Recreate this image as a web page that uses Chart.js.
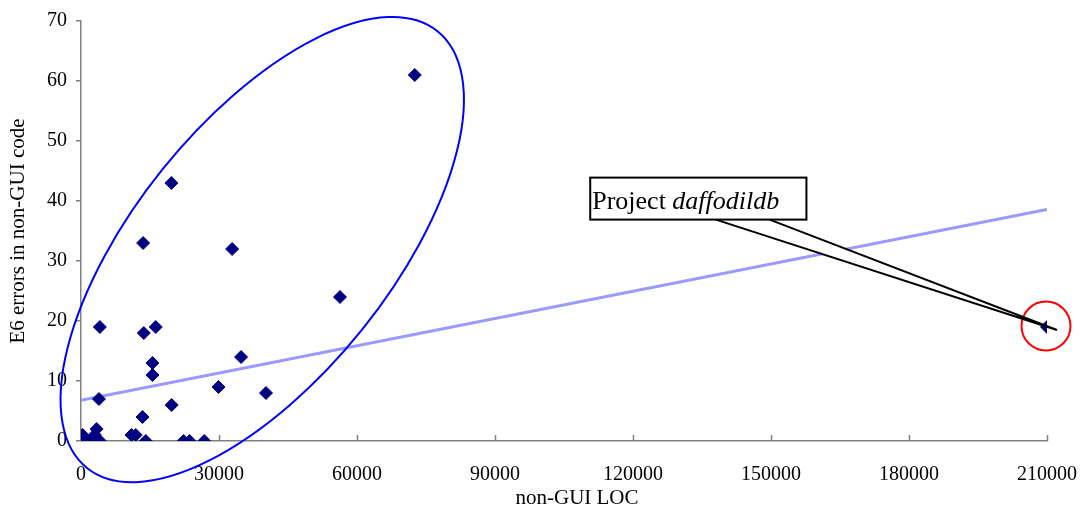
<!DOCTYPE html>
<html>
<head>
<meta charset="utf-8">
<script src="https://cdn.jsdelivr.net/npm/chart.js@4"></script>
<style>
  html, body { margin: 0; padding: 0; background: #fff; }
  #wrap { width: 1088px; height: 509px; }
</style>
</head>
<body>
<div id="wrap"><canvas id="chart" width="1088" height="509"></canvas></div>
<script>
// non-GUI LOC per project
const locValues = [0, 350, 870, 1600, 1950, 3000, 3400, 4100, 3900, 4100,
  10980, 11900, 13360, 14080, 13500, 13650, 16250, 15530, 15530, 19710,
  19650, 22310, 23610, 26800, 29890, 32860, 34800, 40220, 56300, 72560, 210000];
// E6 errors in non-GUI code
const errorValues = [0, 1, 0, 0, 0, 1, 2, 0, 7, 19,
  1, 1, 4, 0, 33, 18, 19, 13, 11, 6,
  43, 0, 0, 0, 9, 32, 14, 8, 24, 61, 19];

// linear trend line
const trendX = [0, 210000];
const trendY = [6.8, 38.6];

const xTickLabels = ["0", "30000", "60000", "90000", "120000", "150000", "180000", "210000"];
const yTickLabels = ["0", "10", "20", "30", "40", "50", "60", "70"];

const xTitle = "non-GUI LOC";
const yTitle = "E6 errors in non-GUI code";

const outlier = { x: 210000, y: 19, label: "Project ", name: "daffodildb" };

const serif = "'Liberation Serif', 'Times New Roman', serif";
const axisGray = "#808080";

const points = locValues.map((x, i) => ({ x, y: errorValues[i] }));
const trend = trendX.map((x, i) => ({ x, y: trendY[i] }));

// ellipse around the main cluster, inward x ticks, x title, callout + red circle
const annotations = {
  id: "annotations",
  afterDraw(chart) {
    const { ctx, chartArea, scales: { x, y } } = chart;
    ctx.save();

    // inward tick marks on x axis
    ctx.strokeStyle = axisGray;
    ctx.lineWidth = 1.5;
    x.ticks.forEach(t => {
      const px = Math.round(x.getPixelForValue(t.value)) + 0.5;
      if (t.value === 0) return;
      ctx.beginPath();
      ctx.moveTo(px, chartArea.bottom);
      ctx.lineTo(px, chartArea.bottom - 6);
      ctx.stroke();
    });

    // x axis title (sits a bit right of centre in the original)
    ctx.fillStyle = "#000";
    ctx.font = "21px " + serif;
    ctx.textAlign = "center";
    ctx.textBaseline = "alphabetic";
    ctx.fillText(xTitle, (chartArea.left + chartArea.right) / 2 + 13, chartArea.bottom + 63);

    // blue ellipse
    ctx.strokeStyle = "#0000ff";
    ctx.lineWidth = 2;
    ctx.beginPath();
    ctx.ellipse(x.getPixelForValue(39400), y.getPixelForValue(31.9), 280, 128,
      -51.25 * Math.PI / 180, 0, Math.PI * 2);
    ctx.stroke();

    // red circle on the outlier
    const ox = x.getPixelForValue(outlier.x);
    const oy = y.getPixelForValue(outlier.y);
    ctx.strokeStyle = "#ff0000";
    ctx.lineWidth = 2;
    ctx.beginPath();
    ctx.arc(ox - 1, oy - 1, 24.5, 0, Math.PI * 2);
    ctx.stroke();

    // callout box
    const bl = x.getPixelForValue(110700), bt = y.getPixelForValue(43.9);
    const br = x.getPixelForValue(157700), bb = y.getPixelForValue(36.9);
    const p1 = x.getPixelForValue(138000), p2 = x.getPixelForValue(149700);
    const tipX = ox + 10, tipY = oy + 3;

    ctx.fillStyle = "#ffffff";
    ctx.strokeStyle = "#000000";
    ctx.lineWidth = 2;
    ctx.beginPath();
    ctx.moveTo(p1, bb);
    ctx.lineTo(tipX, tipY);
    ctx.lineTo(p2, bb);
    ctx.closePath();
    ctx.fill();
    ctx.beginPath();
    ctx.moveTo(p1, bb);
    ctx.lineTo(tipX, tipY);
    ctx.lineTo(p2, bb);
    ctx.stroke();

    ctx.fillRect(bl, bt, br - bl, bb - bt);
    ctx.strokeRect(bl, bt, br - bl, bb - bt);

    ctx.fillStyle = "#000000";
    ctx.textAlign = "left";
    ctx.font = "26px " + serif;
    ctx.fillText(outlier.label, bl + 2, bt + 31);
    const w = ctx.measureText(outlier.label).width;
    ctx.font = "italic 26px " + serif;
    ctx.fillText(outlier.name, bl + 2 + w, bt + 31);

    ctx.restore();
  }
};

new Chart(document.getElementById("chart"), {
  type: "scatter",
  data: {
    datasets: [
      {
        label: "trend",
        type: "line",
        data: trend,
        borderColor: "#9999ff",
        borderWidth: 3,
        pointRadius: 0,
        fill: false,
        order: 2
      },
      {
        label: "E6 errors",
        data: points,
        pointStyle: "rectRot",
        pointRadius: 6.5,
        backgroundColor: "#000080",
        borderColor: "#000080",
        borderWidth: 1,
        order: 1
      }
    ]
  },
  options: {
    responsive: false,
    animation: false,
    devicePixelRatio: 1,
    layout: { padding: { top: 18, right: 41, bottom: 0, left: 0 } },
    plugins: {
      legend: { display: false },
      tooltip: { enabled: false }
    },
    scales: {
      x: {
        type: "linear",
        min: 0,
        max: 210000,
        afterFit: s => { s.height = 68; s.paddingLeft = 0; s.paddingRight = 0; },
        afterBuildTicks: s => { s.ticks = xTickLabels.map(v => ({ value: Number(v) })); },
        grid: { display: false, drawTicks: false },
        border: { display: true, color: axisGray, width: 1.5 },
        ticks: {
          padding: 22,
          color: "#000",
          font: { family: serif, size: 20 },
          maxRotation: 0,
          autoSkip: false,
          callback: (v, i) => xTickLabels[i]
        },
        title: { display: false }
      },
      y: {
        type: "linear",
        min: 0,
        max: 70,
        afterFit: s => { s.width = 81; },
        afterBuildTicks: s => { s.ticks = yTickLabels.map(v => ({ value: Number(v) })); },
        grid: { display: true, drawOnChartArea: false, drawTicks: true, tickLength: 5, color: axisGray, lineWidth: 1.5 },
        border: { display: true, color: axisGray, width: 1.5 },
        ticks: {
          padding: 9,
          color: "#000",
          font: { family: serif, size: 20 },
          autoSkip: false,
          callback: (v, i) => yTickLabels[i]
        },
        title: {
          display: true,
          text: yTitle,
          color: "#000",
          font: { family: serif, size: 21 },
          padding: { top: 6, bottom: 0 }
        }
      }
    }
  },
  plugins: [annotations]
});
</script>
</body>
</html>
